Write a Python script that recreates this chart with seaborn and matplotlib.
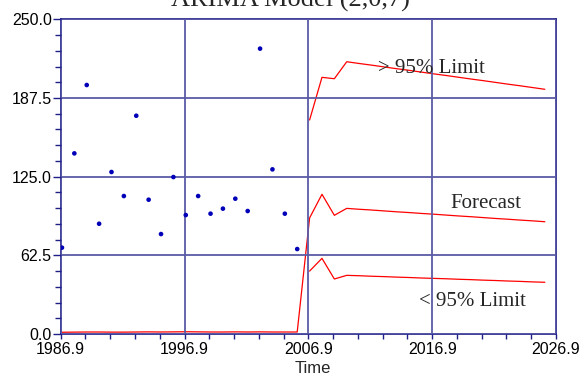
import numpy as np
import pandas as pd
import matplotlib
matplotlib.use("Agg")
import matplotlib.pyplot as plt
from matplotlib.ticker import MultipleLocator, FixedLocator, FormatStrFormatter
import seaborn as sns

# Observed series (annual)
obs_years = list(range(1987, 2007))
obs_values = [68.6, 143.5, 197.8, 87.6, 128.7, 109.6, 173.4, 106.7, 79.4, 124.7,
              94.5, 109.6, 95.6, 99.6, 107.5, 97.7, 226.7, 130.8, 95.6, 67.5]

# Fitted values over the observed period
fit_values = [1.4, 1.5, 1.6, 1.6, 1.5, 1.5, 1.6, 1.7, 1.6, 1.7,
              1.8, 1.7, 1.6, 1.6, 1.7, 1.6, 1.7, 1.6, 1.6, 1.6]

# Forecast horizon
fc_years = list(range(2007, 2027))
fc_values = [92.2, 111.0, 94.3, 99.8, 99.1, 98.5, 97.8, 97.1, 96.5, 95.8,
             95.2, 94.5, 93.8, 93.2, 92.5, 91.8, 91.2, 90.5, 89.9, 89.2]
upper_values = [170.0, 203.9, 202.8, 216.3, 214.9, 213.6, 212.2, 210.8, 209.5, 208.1,
                206.7, 205.4, 204.0, 202.6, 201.3, 199.9, 198.5, 197.2, 195.8, 194.4]
lower_values = [50.0, 60.1, 43.7, 46.6, 46.3, 45.9, 45.6, 45.2, 44.9, 44.5,
                44.2, 43.9, 43.5, 43.2, 42.8, 42.5, 42.1, 41.8, 41.4, 41.1]

x_major = [1986.9, 1996.9, 2006.9, 2016.9, 2026.9]
y_major = [0.0, 62.5, 125.0, 187.5, 250.0]

title = "ARIMA Model (2,0,7)"

obs_df = pd.DataFrame({"Time": obs_years, "Value": obs_values})
mean_df = pd.DataFrame({"Time": obs_years + fc_years, "Value": fit_values + fc_values})
up_df = pd.DataFrame({"Time": fc_years, "Value": upper_values})
lo_df = pd.DataFrame({"Time": fc_years, "Value": lower_values})

sns.set_style("ticks")
navy = "#1f1f8a"
gridc = "#5a5aa6"
red = "#ff0000"
serif = ["Liberation Serif", "DejaVu Serif"]
sans = ["Liberation Sans", "DejaVu Sans"]

fig = plt.figure(figsize=(5.85, 3.83), dpi=100)
ax = fig.add_axes([0.1038, 0.1279, 0.9504 - 0.1038, 0.9496 - 0.1279])

sns.lineplot(data=mean_df, x="Time", y="Value", ax=ax, color=red, lw=0.9)
sns.lineplot(data=up_df, x="Time", y="Value", ax=ax, color=red, lw=0.9)
sns.lineplot(data=lo_df, x="Time", y="Value", ax=ax, color=red, lw=0.9)
sns.scatterplot(data=obs_df, x="Time", y="Value", ax=ax, color="#0000b8",
                s=11, edgecolor="none", zorder=4)

ax.set_xlim(1986.9, 2026.9)
ax.set_ylim(0, 250)

ax.xaxis.set_major_locator(FixedLocator(x_major))
ax.xaxis.set_minor_locator(FixedLocator([1986.9 + 2 * k for k in range(21)]))
ax.yaxis.set_major_locator(FixedLocator(y_major))
ax.yaxis.set_minor_locator(MultipleLocator(12.5))
ax.xaxis.set_major_formatter(FormatStrFormatter("%.1f"))
ax.yaxis.set_major_formatter(FormatStrFormatter("%.1f"))

for lab in ax.get_xticklabels() + ax.get_yticklabels():
    lab.set_family(sans)
    lab.set_fontsize(11.5)
    lab.set_color("black")

ax.tick_params(axis="y", which="major", direction="out", length=6, width=1, color=navy, pad=0.5)
ax.tick_params(axis="y", which="minor", direction="out", length=4.3, width=1, color=navy)
ax.tick_params(axis="x", which="both", direction="out", length=3.8, width=1, color=navy, pad=2)

for sp in ax.spines.values():
    sp.set_visible(True)
    sp.set_color(navy)
    sp.set_linewidth(1.2)

ax.set_axisbelow(False)
ax.grid(True, which="major", color=gridc, lw=1.3, zorder=5)

ax.set_ylabel("")
ax.set_xlabel("Time", family=sans, fontsize=12)
ax.xaxis.set_label_coords(0.51, -0.085)
ax.xaxis.label.set_va("top")

ax.text(2012.5, 207.1, "> 95% Limit", family=serif, fontsize=15, va="baseline", zorder=6)
ax.text(2018.36, 99.9, "Forecast", family=serif, fontsize=15, va="baseline", zorder=6)
ax.text(2015.8, 22.5, "< 95% Limit", family=serif, fontsize=15, va="baseline", zorder=6)

fig.text(0.496, 1 - 6.5 / 383, title, ha="center", va="baseline", family=serif, fontsize=19)

fig.savefig("out.png", dpi=100)
